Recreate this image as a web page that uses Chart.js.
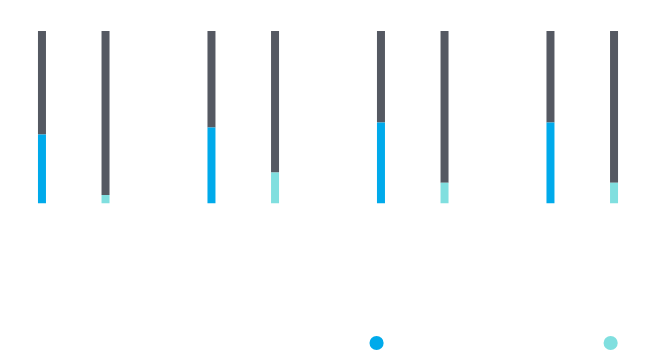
<!DOCTYPE html>
<html>
<head>
<meta charset="utf-8">
<script src="https://cdn.jsdelivr.net/npm/chart.js@4.4.0/dist/chart.umd.min.js"></script>
<style>
  html, body { margin: 0; padding: 0; background: #fff; overflow: hidden; }
  .chart-wrap { position: absolute; left: -11px; top: 0; width: 678px; height: 359px; }
</style>
</head>
<body>
<div class="chart-wrap"><canvas id="chart"></canvas></div>
<script>
// values, in percent of the full bar
const categories = ['Week 1', 'Week 2', 'Week 3', 'Week 4'];
const desktopLabel = 'Ratio of sessions from desktop devices';
const mobileLabel = 'Mobile';
const desktopShare = [40, 44, 47, 47];
const desktopRest = [60, 56, 53, 53];
const mobileShare = [5, 18, 12, 12];
const mobileRest = [95, 82, 88, 88];

const blue = '#00aaeb';
const teal = '#80dfdf';
const gray = '#555962';
// the legend text is white, as in the reference (made for a dark page)
const labelColor = '#ffffff';

new Chart(document.getElementById('chart'), {
    type: 'bar',
    data: {
        labels: categories,
        datasets: [
            { label: desktopLabel, data: desktopShare, backgroundColor: blue, stack: 'desktop' },
            { label: 'rest', data: desktopRest, backgroundColor: gray, stack: 'desktop' },
            { label: mobileLabel, data: mobileShare, backgroundColor: teal, stack: 'mobile' },
            { label: 'rest', data: mobileRest, backgroundColor: gray, stack: 'mobile' }
        ]
    },
    options: {
        responsive: true,
        maintainAspectRatio: false,
        animation: false,
        categoryPercentage: 0.75,
        barPercentage: 0.9,
        maxBarThickness: 8,
        layout: { padding: { top: 31, bottom: 0 } },
        scales: {
            x: {
                stacked: true,
                grid: { display: false },
                border: { display: false },
                ticks: { display: false },
                afterFit(scale) {
                    scale.height = 123.5;
                }
            },
            y: {
                stacked: true,
                display: false,
                min: 0,
                max: 100
            }
        },
        plugins: {
            legend: {
                position: 'bottom',
                align: 'end',
                labels: {
                    usePointStyle: true,
                    pointStyle: 'circle',
                    boxWidth: 10,
                    boxHeight: 10,
                    color: labelColor,
                    font: { size: 12 },
                    filter: (item) => item.text !== 'rest'
                }
            },
            tooltip: { enabled: false }
        }
    }
});
</script>
</body>
</html>
